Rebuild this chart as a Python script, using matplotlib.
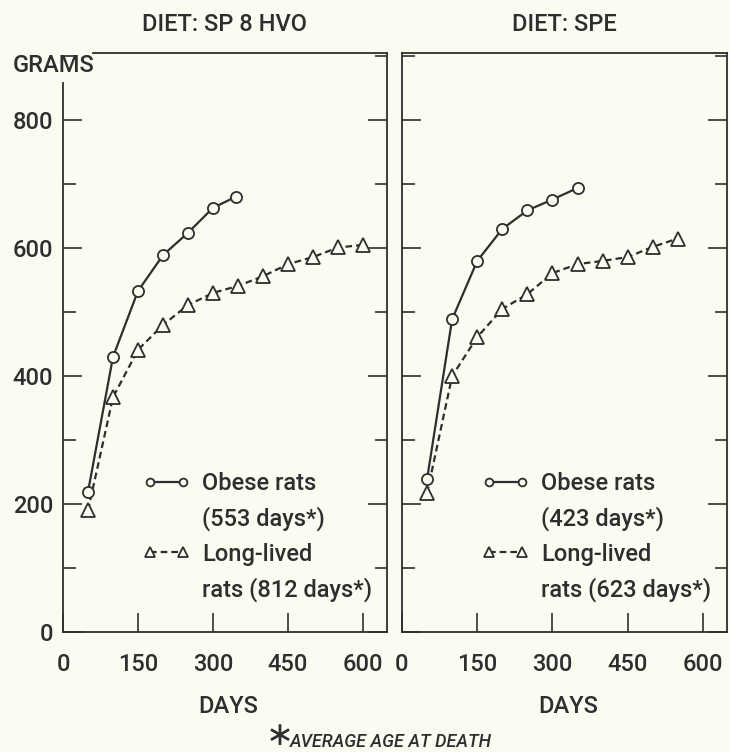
import matplotlib
matplotlib.use('Agg')
import matplotlib.pyplot as plt
from matplotlib.lines import Line2D
from matplotlib.ticker import MultipleLocator

# body weight (grams)
days_obese_hvo = [50, 100, 150, 200, 250, 300, 345]
obese_hvo = [219, 430, 533, 589, 624, 663, 680]
days_long_hvo = [50, 100, 150, 200, 250, 300, 350, 400, 450, 500, 550, 600]
long_hvo = [190, 367, 441, 480, 511, 530, 541, 556, 575, 586, 601, 605]

days_obese_spe = [50, 100, 150, 200, 250, 300, 350]
obese_spe = [239, 489, 580, 630, 659, 676, 694]
days_long_spe = [50, 100, 150, 200, 250, 300, 350, 400, 450, 500, 550]
long_spe = [217, 400, 461, 505, 528, 561, 575, 580, 586, 602, 615]

titles = ['DIET: SP 8 HVO', 'DIET: SPE']
obese_labels = ['(553 days*)', '(423 days*)']
long_labels = ['rats (812 days*)', 'rats (623 days*)']
x_ticks = [0, 150, 300, 450, 600]

bg = '#fbfbf2'
ink = '#2e2e2e'
plt.rcParams['font.family'] = ['Roboto', 'DejaVu Sans']
plt.rcParams['font.weight'] = 'medium'
plt.rcParams['axes.titleweight'] = 'medium'
plt.rcParams['axes.labelweight'] = 'medium'
plt.rcParams['text.color'] = ink

fig = plt.figure(figsize=(7.3, 7.52), dpi=100, facecolor=bg)
ax1 = fig.add_axes([63 / 730, 120 / 752, 324 / 730, 579 / 752])
ax2 = fig.add_axes([402 / 730, 120 / 752, 325 / 730, 579 / 752])

panels = [(ax1, days_obese_hvo, obese_hvo, days_long_hvo, long_hvo),
          (ax2, days_obese_spe, obese_spe, days_long_spe, long_spe)]

for i, (ax, dx_o, y_o, dx_l, y_l) in enumerate(panels):
    ax.set_facecolor(bg)
    l_obese, = ax.plot(dx_o, y_o, color=ink, lw=1.6,
                       marker='o', ms=8, mfc=bg, mec=ink, mew=1.3, zorder=4)
    l_long, = ax.plot(dx_l, y_l, color=ink, lw=1.6, ls=(0, (3, 1.8)),
                      marker='^', ms=9.5, mfc=bg, mec=ink, mew=1.3, zorder=3)

    ax.set_xlim(0, 648)
    ax.set_ylim(0, 905)
    ax.set_xticks(x_ticks)
    ax.yaxis.set_major_locator(MultipleLocator(200))
    ax.yaxis.set_minor_locator(MultipleLocator(100))
    ax.tick_params(which='major', direction='in', length=14, width=1.2,
                   colors=ink, labelsize=17)
    ax.tick_params(which='minor', direction='in', length=9, width=1.2, colors=ink)
    ax.tick_params(axis='y', which='both', left=True, right=True, pad=7)
    ax.tick_params(axis='x', which='both', top=False, pad=15)
    for s in ax.spines.values():
        s.set_color(ink)
        s.set_linewidth(1.3)

    ax.set_title(titles[i], fontsize=17, pad=16, color=ink)
    ax.set_xlabel('DAYS', fontsize=17, color=ink)
    ax.xaxis.set_label_coords(0.51, -0.108)

    blank = Line2D([], [], linestyle='none')
    ax.legend(handles=[l_obese, blank, l_long, blank],
              labels=['Obese rats', obese_labels[i], 'Long-lived', long_labels[i]],
              loc='upper left', bbox_to_anchor=(0.247, 0.276),
              frameon=False, borderpad=0, borderaxespad=0,
              handlelength=2.0, handletextpad=0.5, labelspacing=0.48,
              numpoints=2, fontsize=17, markerscale=0.7)

ax2.tick_params(axis='y', labelleft=False)

# gap in the frame around the GRAMS label
ax1.spines['left'].set_bounds(0, 858)
ax1.spines['top'].set_bounds(60, 648)
fig.text(13 / 730, 1 - 65 / 752, 'GRAMS', ha='left', va='center', fontsize=17)

fig.text(278 / 730, 1 - 736 / 752, r'$\ast$', ha='center', va='center',
         fontsize=24)
fig.text(290 / 730, 1 - 742 / 752, 'AVERAGE AGE AT DEATH', ha='left',
         va='center', fontsize=13, style='italic')

fig.savefig('out.png', dpi=100, facecolor=bg)
